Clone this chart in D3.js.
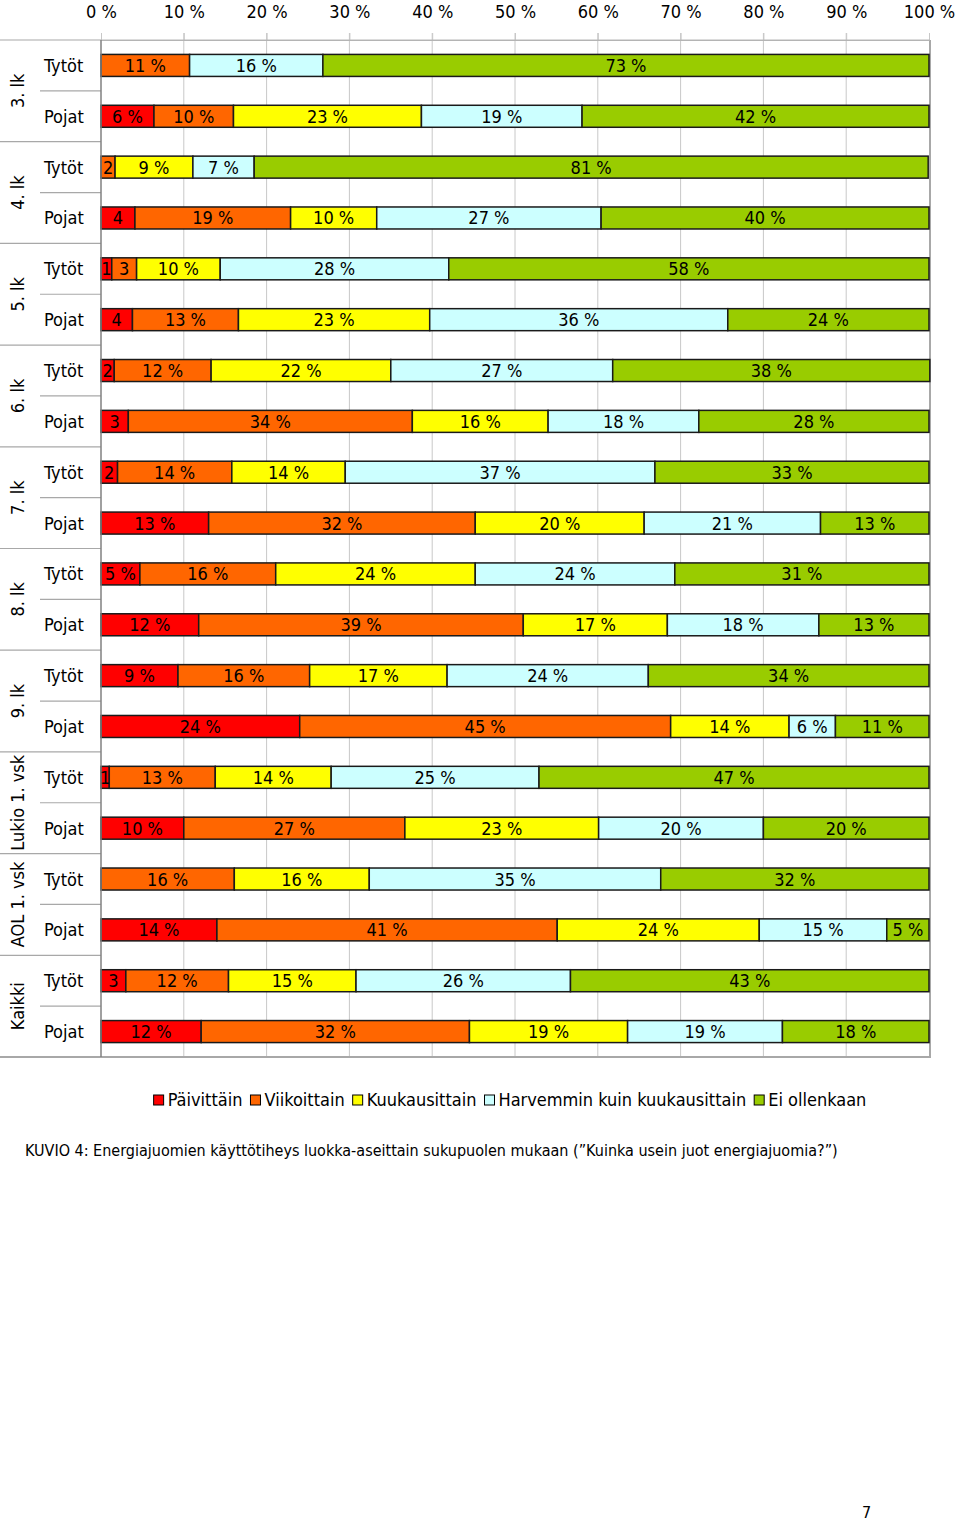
<!DOCTYPE html>
<html>
<head>
<meta charset="utf-8">
<script src="https://cdn.jsdelivr.net/npm/d3@7"></script>
<style>
  html, body { margin: 0; padding: 0; background: #fff; }
  svg { display: block; }
  text { font-family: "DejaVu Sans Condensed", "DejaVu Sans", sans-serif; font-stretch: condensed; fill: #000; }
</style>
</head>
<body>
<svg id="chart" width="960" height="1526"></svg>
<script>
// ---- data ----
const groups = ["3. lk", "4. lk", "5. lk", "6. lk", "7. lk", "8. lk", "9. lk", "Lukio 1. vsk", "AOL 1. vsk", "Kaikki"];
const genders = ["Tytöt", "Pojat"];
const seriesNames = ["Päivittäin", "Viikoittain", "Kuukausittain", "Harvemmin kuin kuukausittain", "Ei ollenkaan"];
const seriesColors = ["#ff0000", "#ff6600", "#ffff00", "#ccffff", "#99cc00"];
// values per row: 3.lk T, 3.lk P, 4.lk T, 4.lk P, ... Kaikki T, Kaikki P
const paivittain    = [0,    6.4,  0,    4.1,  1.3,  3.8,  1.6,  3.3,  2.0,  13.0, 4.7,  11.8, 9.3,  24.0, 1.0,  10.0, 0,    14.0, 3.0,  12.1];
const viikoittain   = [10.7, 9.6,  1.7,  18.8, 3.0,  12.8, 11.7, 34.3, 13.8, 32.2, 16.4, 39.2, 15.9, 44.8, 12.8, 26.7, 16.1, 41.1, 12.4, 32.4];
const kuukausittain = [0,    22.7, 9.4,  10.4, 10.1, 23.1, 21.7, 16.4, 13.7, 20.4, 24.1, 17.4, 16.6, 14.3, 14.0, 23.4, 16.3, 24.4, 15.4, 19.1];
const harvemmin     = [16.1, 19.4, 7.4,  27.1, 27.6, 36.0, 26.8, 18.2, 37.4, 21.3, 24.1, 18.3, 24.3, 5.6,  25.1, 19.9, 35.2, 15.4, 25.9, 18.7];
const eiOllenkaan   = [73.2, 41.9, 81.4, 39.6, 58.0, 24.3, 38.3, 27.8, 33.1, 13.1, 30.7, 13.3, 33.9, 11.3, 47.1, 20.0, 32.4, 5.1,  43.3, 17.7];
const xTicks = [0, 10, 20, 30, 40, 50, 60, 70, 80, 90, 100];
const captionText = "KUVIO 4: Energiajuomien käyttötiheys luokka-aseittain sukupuolen mukaan (”Kuinka usein juot energiajuomia?”)";
const pageNumber = "7";

// ---- build rows ----
const seriesValues = [paivittain, viikoittain, kuukausittain, harvemmin, eiOllenkaan];
const rows = [];
groups.forEach((g, gi) => genders.forEach((s, si) => {
  const idx = gi * 2 + si;
  const r = { id: idx, group: g, gender: s };
  seriesNames.forEach((n, k) => r[n] = seriesValues[k][idx]);
  rows.push(r);
}));
const stacked = d3.stack().keys(seriesNames)(rows);

// ---- layout ----
const svg = d3.select("#chart");
const plot = { left: 101, right: 929, top: 40, bottom: 1057 };
const x = d3.scaleLinear().domain([0, 100]).range([plot.left, plot.right]);
const pad = 1 - 22 / ((plot.bottom - plot.top) / rows.length);
const y = d3.scaleBand().domain(rows.map(r => r.id)).range([plot.top, plot.bottom])
  .paddingInner(pad).paddingOuter(pad / 2);
const step = y.step();
const fontSize = 18;

// gridlines (extend a little above plot as tick marks)
svg.append("g").selectAll("line").data(xTicks.slice(1, -1)).join("line")
  .attr("x1", d => x(d)).attr("x2", d => x(d))
  .attr("y1", plot.top - 7).attr("y2", plot.bottom)
  .attr("stroke", "#c8c8c8").attr("stroke-width", 1);

// top axis labels
const xAxis = d3.axisTop(x).tickValues(xTicks).tickFormat(d => d + " %").tickSize(7).tickPadding(8);
const ax = svg.append("g").attr("transform", `translate(0,${plot.top})`).call(xAxis);
ax.select(".domain").attr("stroke", "#b0b0b0");
ax.selectAll(".tick line").attr("stroke", "#c8c8c8");
ax.selectAll(".tick text").attr("font-size", fontSize).attr("y", -22).attr("dy", 0)
  .style("font-family", '"DejaVu Sans Condensed", "DejaVu Sans", sans-serif').attr("fill", "#000");

// plot frame: right & bottom
svg.append("line").attr("x1", plot.right + 1).attr("x2", plot.right + 1).attr("y1", plot.top).attr("y2", plot.bottom + 1)
  .attr("stroke", "#a8a8a8").attr("stroke-width", 2);
svg.append("line").attr("x1", 0).attr("x2", plot.right + 2).attr("y1", plot.bottom).attr("y2", plot.bottom)
  .attr("stroke", "#a8a8a8").attr("stroke-width", 2);

// left category separators
svg.append("g").selectAll("line").data(groups).join("line")
  .attr("x1", 0).attr("x2", plot.left)
  .attr("y1", (g, i) => plot.top + i * 2 * step).attr("y2", (g, i) => plot.top + i * 2 * step)
  .attr("stroke", "#a8a8a8").attr("stroke-width", 1.2);
svg.append("g").selectAll("line").data(groups).join("line")
  .attr("x1", 40).attr("x2", plot.left)
  .attr("y1", (g, i) => plot.top + (i * 2 + 1) * step).attr("y2", (g, i) => plot.top + (i * 2 + 1) * step)
  .attr("stroke", "#a8a8a8").attr("stroke-width", 1.2);
// top border line of plot across
svg.append("line").attr("x1", plot.left).attr("x2", plot.right + 1).attr("y1", plot.top).attr("y2", plot.top)
  .attr("stroke", "#b8b8b8").attr("stroke-width", 1);

// group labels rotated
svg.append("g").selectAll("text").data(groups).join("text")
  .attr("transform", (g, i) => `translate(18,${plot.top + (i * 2 + 1) * step}) rotate(-90)`)
  .attr("text-anchor", "middle").attr("dy", "0.36em").attr("font-size", fontSize)
  .text(g => g);

// gender labels
svg.append("g").selectAll("text").data(rows).join("text")
  .attr("x", 44).attr("y", r => y(r.id) + y.bandwidth() / 2).attr("dy", "0.36em")
  .attr("font-size", fontSize).text(r => r.gender);

// bars
const layers = svg.append("g").selectAll("g").data(stacked).join("g")
  .attr("fill", (d, i) => seriesColors[i]);
layers.selectAll("rect").data(d => d.filter(p => p[1] - p[0] > 0)).join("rect")
  .attr("x", p => x(p[0])).attr("width", p => x(p[1]) - x(p[0]))
  .attr("y", p => y(p.data.id)).attr("height", y.bandwidth())
  .attr("stroke", "#1a1a1a").attr("stroke-width", 1.5);

// left axis line
svg.append("line").attr("x1", plot.left).attr("x2", plot.left).attr("y1", plot.top).attr("y2", plot.bottom)
  .attr("stroke", "#808080").attr("stroke-width", 1.5);

// bar labels
const labels = svg.append("g");
stacked.forEach((layer) => {
  labels.selectAll(null).data(layer.filter(p => p[1] - p[0] > 0)).join("text")
    .attr("x", p => (x(p[0]) + x(p[1])) / 2)
    .attr("y", p => y(p.data.id) + y.bandwidth() / 2).attr("dy", "0.36em")
    .attr("text-anchor", "middle").attr("font-size", fontSize)
    .attr("fill", "#111")
    .text(p => { const v = Math.round(p[1] - p[0]); return v < 5 ? String(v) : v + " %"; });
});

// legend
const legend = svg.append("g");
const items = legend.selectAll("g").data(seriesNames).join("g");
items.append("rect").attr("width", 10).attr("height", 10).attr("y", -5)
  .attr("fill", (d, i) => seriesColors[i]).attr("stroke", "#000").attr("stroke-width", 1);
items.append("text").attr("x", 14).attr("dy", "0.36em").attr("font-size", fontSize).text(d => d);
let cx = 0;
const gap = 8;
items.each(function () {
  const w = 14 + this.querySelector("text").getComputedTextLength();
  d3.select(this).attr("data-x", cx);
  cx += w + gap;
});
const total = cx - gap;
const lx0 = 510 - total / 2;
items.attr("transform", function () { return `translate(${lx0 + (+this.getAttribute("data-x"))},1100)`; });

// caption
svg.append("text").attr("x", 25).attr("y", 1150).attr("dy", "0.36em").attr("font-size", 16).text(captionText);

// page number
svg.append("text").attr("x", 862).attr("y", 1512).attr("dy", "0.36em").attr("font-size", 16).text(pageNumber);
</script>
</body>
</html>
